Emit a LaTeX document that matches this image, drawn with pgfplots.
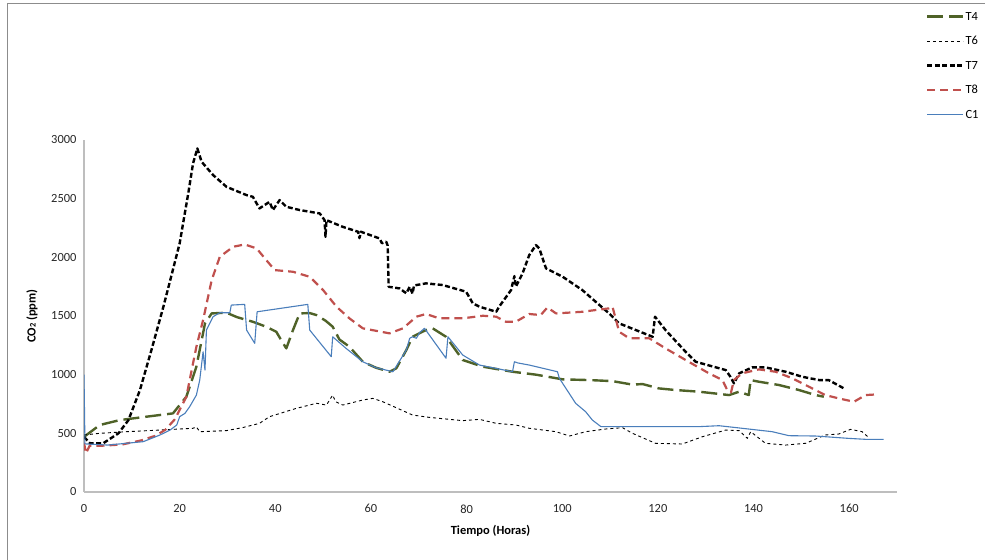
\documentclass[border=0pt]{standalone}
\usepackage{pgfplots}
\pgfplotsset{compat=1.18}
\usepackage{fontspec}
\setmainfont{Carlito}
\definecolor{cT4}{RGB}{79,98,40}
\definecolor{cT8}{RGB}{192,80,77}
\definecolor{cC1}{RGB}{74,126,187}
\definecolor{axgray}{RGB}{190,190,190}
\definecolor{bordergray}{RGB}{140,140,140}
\begin{document}
\begin{tikzpicture}
\path[use as bounding box] (0bp,0bp) rectangle (985bp,560bp);
\draw[bordergray, line width=0.8bp] (7bp,0bp) -- (7bp,557bp) -- (985bp,557bp);
\begin{axis}[
  at={(84bp,68bp)}, anchor=south west,
  scale only axis, width=813bp, height=352bp,
  xmin=0, xmax=170, ymin=0, ymax=3000,
  xtick={0,20,...,160}, ytick={0,500,...,3000},
  axis lines*=left,
  axis line style={axgray, line width=1.2bp, -},
  major tick length=0pt,
  tick label style={font=\fontsize{12.5}{14}\selectfont, text=black!85},
  /pgf/number format/assume math mode=true,
  scaled ticks=false,
  yticklabel style={/pgf/number format/1000 sep={}},
  xticklabel style={yshift=-9bp},
  yticklabel style={xshift=-4bp},
  xlabel={\textbf{Tiempo (Horas)}},
  ylabel={\textbf{CO{\fontsize{8.5}{9}\selectfont 2} (ppm)}},
  xlabel style={at={(axis description cs:0.5,-0.11)}, anchor=center, font=\fontsize{12.5}{14}\selectfont},
  ylabel style={at={(axis description cs:-0.064,0.5)}, anchor=center, rotate=0, font=\fontsize{12.5}{14}\selectfont},
  legend style={draw=none, fill=none, at={(axis description cs:1.032,1.374)}, anchor=north west,
    font=\fontsize{12.5}{14}\selectfont, row sep=12.5bp,
    nodes={inner sep=1bp, text height=8.5bp, text depth=1.5bp}},
  legend cell align=left,
  legend image code/.code={\draw[#1] (0bp,0bp) -- (36bp,0bp);},
  line join=round,
]
\addplot[cT4, line width=2.4bp, dash pattern=on 16bp off 6bp] coordinates {
(0,470) (3.3,571) (7.5,613) (13.1,642) (18.6,670) (21.4,812) (23.5,1068) (25.3,1437) (26.7,1522) (29.8,1528) (32,1490) (35.3,1451) (38,1410) (40.2,1366) (41.3,1290) (42.3,1224) (43.7,1380) (45.1,1522) (47.2,1525) (48.6,1508) (50.5,1460) (52,1409) (53.4,1300) (55.5,1238) (58.3,1110) (61,1060) (63.9,1025) (65.3,1054) (67.4,1210) (68.7,1323) (70.1,1352) (71.5,1380) (72.9,1395) (75.7,1323) (79.2,1125) (83.4,1068) (89.6,1025) (94.5,1000) (100.1,960) (105.6,954) (110.5,945) (114.7,915) (116.8,920) (120.2,883) (123.7,869) (128.6,855) (134.9,826) (137,855) (139,826) (139.4,954) (141.1,940) (145.3,912) (149.5,869) (153,826) (154.7,812)
};
\addlegendentry{T4}
\addplot[black, line width=0.9bp, dash pattern=on 3bp off 3bp] coordinates {
(0,486) (3.3,500) (8.9,514) (15.9,528) (22.8,543) (23.5,555) (24.2,514) (29.8,523) (33.3,550) (36.7,585) (38.8,642) (44.4,713) (48.6,756) (50.7,741) (52,826) (52.6,770) (54.1,741) (58.3,784) (60.4,798) (62.5,769) (68.7,656) (72.2,636) (79.2,608) (82.7,619) (86.2,585) (90.3,571) (93.1,543) (98.7,514) (101.5,477) (104.9,514) (109.1,537) (112.6,548) (114.7,500) (119.5,415) (125.1,409) (129.3,471) (134.2,528) (137,523) (138.7,457) (139.4,514) (142.5,415) (146.7,400) (150.9,415) (155,486) (157.8,494) (160.3,534) (162.7,514) (164.2,460)
};
\addlegendentry{T6}
\addplot[black, line width=2.4bp, dash pattern=on 5bp off 2.5bp] coordinates {
(0,470) (1.25,415) (4,415) (7.2,500) (9.3,613) (11.7,869) (14.1,1210) (16.6,1579) (18,1800) (20,2119) (21.8,2545) (22.8,2800) (23.7,2928) (24.6,2814) (27,2701) (29.8,2601) (34,2530) (35.3,2516) (36.7,2417) (38.8,2473) (39.5,2403) (40.9,2488) (42.3,2431) (45.1,2403) (49.3,2374) (50.3,2317) (50.5,2175) (50.7,2317) (54.1,2260) (57.3,2218) (57.6,2164) (57.9,2218) (61.8,2161) (62.3,2120) (63.2,2133) (63.5,2100) (63.7,1749) (66,1735) (67.4,1693) (68.1,1749) (68.7,1690) (69,1760) (71.5,1778) (75,1764) (79.9,1707) (81.3,1608) (82.7,1579) (86.2,1536) (86.8,1579) (89.3,1721) (90,1840) (90.3,1750) (91.7,1863) (93.1,2019) (94.5,2104) (95.2,2076) (96.6,1906) (100.1,1834) (104.2,1721) (107,1621) (109.8,1522) (111.9,1437) (118.9,1323) (119.4,1494) (121.6,1380) (125.8,1195) (127.9,1110) (134.2,1039) (135.2,980) (135.9,926) (137,1011) (139.7,1062) (142.5,1062) (146.7,1025) (150.2,982) (153.7,954) (155.7,954) (158.9,883)
};
\addlegendentry{T7}
\addplot[cT8, line width=2.2bp, dash pattern=on 8bp off 5bp] coordinates {
(0,420) (0.4,330) (1.2,395) (4,395) (8,405) (12,440) (15,480) (17,530) (19,620) (21.4,812) (23.5,1238) (24.9,1465) (26.7,1806) (28.4,2005) (31.2,2090) (33.6,2110) (36.1,2076) (38.1,1977) (39.9,1891) (43.7,1877) (47.2,1834) (50,1721) (52.8,1579) (55.5,1480) (58.3,1395) (63.9,1352) (66.7,1395) (69.5,1494) (71.5,1517) (74.3,1480) (79.2,1480) (83.4,1502) (86.2,1494) (88.2,1451) (90.3,1451) (93.1,1517) (95.5,1508) (96.9,1573) (98.7,1522) (104.2,1536) (107,1551) (109.8,1565) (110.5,1580) (111.9,1366) (114,1310) (118.2,1310) (121.6,1224) (125.8,1125) (130.7,1011) (133.5,954) (134.5,869) (135.3,850) (135.9,954) (137.6,1011) (141.1,1045) (144.6,1025) (148.1,969) (151.6,897) (155,826) (157.8,798) (161,769) (163.4,826) (165.8,832)
};
\addlegendentry{T8}
\addplot[cC1, line width=1.1bp] coordinates {
(0,1000) (0.2,410) (5,400) (12.4,429) (15.9,486) (18,528) (19.4,571) (20,642) (21.1,670) (22.1,727) (23.5,826) (24.2,954) (24.9,1195) (25.3,1039) (25.6,1380) (27,1494) (28.4,1528) (30.5,1528) (30.8,1593) (33.6,1599) (34,1380) (35.7,1267) (36.2,1536) (46.8,1599) (47.2,1380) (51.7,1153) (52,1323) (54.8,1224) (58.3,1110) (61,1060) (64.6,1025) (67.4,1210) (68.1,1310) (68.7,1323) (69.5,1310) (70.2,1360) (71.2,1395) (75.7,1140) (76.1,1323) (79.2,1167) (82.7,1082) (89.6,1025) (90,1110) (90.7,1100) (93.1,1082) (99,1025) (99.4,969) (102.8,756) (104.9,684) (106.3,613) (108.1,557) (114.7,557) (121.6,557) (128.6,557) (132.8,565) (137.6,543) (143.9,514) (147.4,480) (153,477) (159.9,457) (163.4,449) (167.2,449)
};
\addlegendentry{C1}
\end{axis}
\end{tikzpicture}
\end{document}
